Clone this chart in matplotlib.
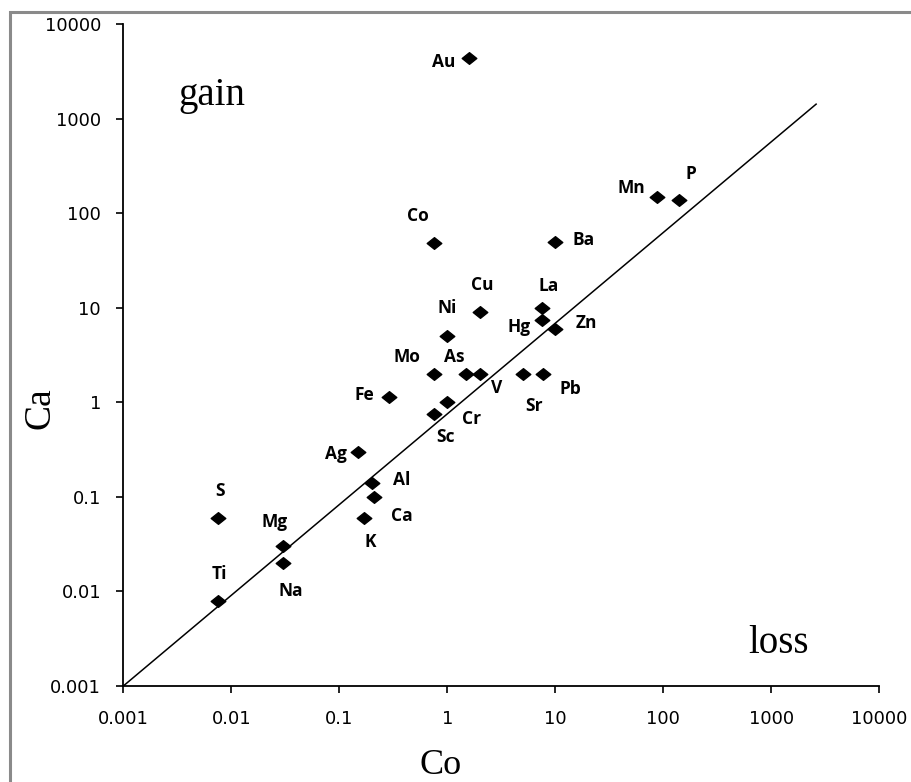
import matplotlib
matplotlib.use("Agg")
import matplotlib.pyplot as plt
from matplotlib.path import Path
from matplotlib.patches import Rectangle

# ---- data ----
elements = ["Au", "Co", "Ni", "Mo", "As", "Fe", "Cu", "La", "Hg", "Zn", "Ba", "Mn", "P",
            "V", "Pb", "Sr", "Cr", "Sc", "Ag", "Al", "Ca", "K", "S", "Mg", "Na", "Ti"]
co_vals = [1.6, 0.75, 1.0, 0.75, 1.5, 0.29, 2.0, 7.5, 7.5, 10.0, 10.0, 87.0, 140.0,
           2.0, 7.7, 5.0, 1.0, 0.75, 0.15, 0.2, 0.21, 0.17, 0.0075, 0.03, 0.03, 0.0075]
ca_vals = [4450.0, 48.0, 5.0, 2.0, 2.0, 1.13, 9.0, 10.0, 7.5, 6.0, 50.0, 148.0, 139.0,
           2.0, 2.0, 2.0, 1.0, 0.75, 0.3, 0.14, 0.1, 0.06, 0.06, 0.03, 0.02, 0.008]
# label offsets in pixels (dx right, dy up)
label_dx = [-26, -16, 0, -27, -12, -25, 2, 7, -23, 31, 28, -25, 12,
            17, 27, 11, 24, 12, -22, 30, 28, 6, 2, -8, 8, 2]
label_dy = [-4, 27, 28, 17, 17, 2, 27, 22, -7, 6, 2, 9, 26,
            -14, -15, -32, -17, -23, -2, 3, -19, -24, 27, 24, -28, 27]

isocon_x = [0.001, 2600.0]
isocon_y = [0.001, 1430.0]

tick_vals = [0.001, 0.01, 0.1, 1, 10, 100, 1000, 10000]
tick_labels = ["0.001", "0.01", "0.1", "1", "10", "100", "1000", "10000"]

# ---- figure ----
W, H = 911, 782
fig = plt.figure(figsize=(W / 100, H / 100), dpi=100)
fig.patch.set_facecolor("white")

x0, x1, ytop, ybot = 123.3, 879.3, 24.3, 686.0
ax = fig.add_axes([x0 / W, (H - ybot) / H, (x1 - x0) / W, (ybot - ytop) / H])
ax.set_xscale("log")
ax.set_yscale("log")
ax.set_xlim(1e-3, 1e4)
ax.set_ylim(1e-3, 1e4)

for s in ("top", "right"):
    ax.spines[s].set_visible(False)
for s in ("left", "bottom"):
    ax.spines[s].set_linewidth(1.3)
    ax.spines[s].set_color("black")

ax.set_xticks(tick_vals)
ax.set_xticklabels(tick_labels)
ax.set_yticks(tick_vals)
ax.set_yticklabels(tick_labels)
ax.minorticks_off()
ax.tick_params(axis="both", direction="out", length=5, width=1.2, labelsize=13,
               colors="black")
ax.tick_params(axis="x", pad=12)
ax.tick_params(axis="y", pad=11)
for lab in ax.get_xticklabels() + ax.get_yticklabels():
    lab.set_family("DejaVu Sans")

# isocon line
ax.plot(isocon_x, isocon_y, color="black", lw=1.1, zorder=2)

# diamond marker (wider than tall)
diamond = Path([(-1.0, 0.0), (0.0, 0.8), (1.0, 0.0), (0.0, -0.8), (-1.0, 0.0)],
               [Path.MOVETO, Path.LINETO, Path.LINETO, Path.LINETO, Path.CLOSEPOLY])
ax.plot(co_vals, ca_vals, linestyle="none", marker=diamond, markersize=10.5,
        color="black", zorder=3)

for name, xv, yv, dx, dy in zip(elements, co_vals, ca_vals, label_dx, label_dy):
    ax.annotate(name, (xv, yv), xytext=(dx, dy), textcoords="offset pixels",
                ha="center", va="center", fontsize=12.5, fontweight="bold",
                family="Open Sans", color="black")

# region labels
serif = "Liberation Serif"
ax.text((178 - x0) / (x1 - x0), (ybot - 105) / (ybot - ytop), "gain",
        transform=ax.transAxes, ha="left", va="baseline", fontsize=28, family=serif)
ax.text((748 - x0) / (x1 - x0), (ybot - 652.7) / (ybot - ytop), "loss",
        transform=ax.transAxes, ha="left", va="baseline", fontsize=28, family=serif)

# axis titles
fig.text(40 / W, 1 - 408 / H, "Ca", rotation=90, ha="center", va="center",
         fontsize=27, family=serif)
fig.text(441 / W, 1 - 774 / H, "Co", ha="center", va="baseline",
         fontsize=26, family=serif)

# outer gray frame (partially cropped)
fig.add_artist(Rectangle((10 / W, -0.1), 1.2, 1 - 12 / H + 0.1,
                         transform=fig.transFigure, fill=False,
                         edgecolor="#8a8a8a", linewidth=2.2))

fig.savefig("out.png", dpi=100, facecolor="white")
